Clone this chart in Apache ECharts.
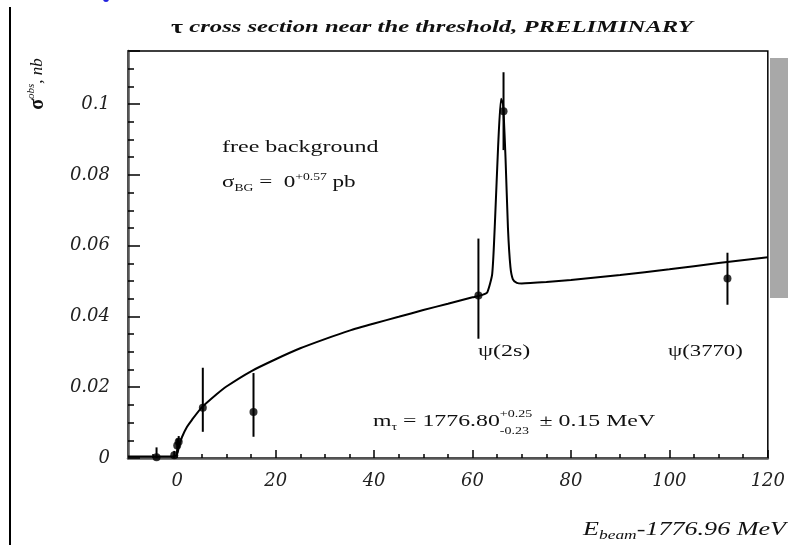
<html>
<head>
<meta charset="utf-8">
<script src="https://cdn.jsdelivr.net/npm/echarts@6/dist/echarts.min.js"></script>
<style>
  html, body, #main { width: 100%; height: 100%; margin: 0; background: #fff; }
</style>
</head>
<body>
<div id="main"></div>
<script>
// measured points (E_beam - 1776.96 MeV, sigma obs in nb)
var pointX  = [-4.2, -0.6, 0.0, 0.3, 5.2, 15.5, 61.2, 66.3, 111.8];
var pointY  = [0.0002, 0.0008, 0.0035, 0.0046, 0.0142, 0.0130, 0.0459, 0.0980, 0.0507];
var errLow  = [0.0, 0.0, 0.0015, 0.003, 0.0074, 0.0060, 0.0337, 0.0870, 0.0433];
var errHigh = [0.003, 0.002, 0.0055, 0.0062, 0.0255, 0.0240, 0.0620, 0.1090, 0.0580];

// fitted curve
var curveX = [-10, -2, -0.5, 0, 0.5, 1, 2, 3, 5, 8, 10, 15, 20, 25, 30, 35, 40, 45, 50, 55, 60, 62, 63, 64, 64.6, 65.2, 65.8, 66.2, 66.7, 67.2, 67.7, 68.2, 69, 70, 75, 80, 90, 100, 110, 120];
var curveY = [0.0004, 0.0004, 0.0005, 0.0012, 0.004, 0.006, 0.0088, 0.0108, 0.0143, 0.018, 0.0202, 0.0245, 0.0279, 0.031, 0.0336, 0.036, 0.038, 0.0399, 0.0418, 0.0436, 0.0454, 0.0461, 0.0468, 0.052, 0.068, 0.088, 0.1015, 0.1, 0.085, 0.065, 0.054, 0.0505, 0.0495, 0.0493, 0.0497, 0.0503, 0.0517, 0.0533, 0.0551, 0.0567];

var xMajor = [0, 20, 40, 60, 80, 100, 120];
var xMinor = [-5, 5, 10, 15, 25, 30, 35, 45, 50, 55, 65, 70, 75, 85, 90, 95, 105, 110, 115];

var chart = echarts.init(document.getElementById('main'));
var serif = 'Liberation Serif';
var tickFont = 'DejaVu Serif';

var measure = document.createElement('canvas').getContext('2d');
function tw(text, font) { measure.font = font; return measure.measureText(text).width; }

var points = pointX.map(function (x, i) { return [x, pointY[i]]; });
var bars = pointX.map(function (x, i) { return [x, errLow[i], errHigh[i]]; });
var curve = curveX.map(function (x, i) { return [x, curveY[i]]; });

// m_tau annotation, pieces laid out side by side
var f17 = '17px ' + serif, f10 = '10px ' + serif;
var w1 = tw('m', f17) + tw('τ', f10) + tw(' = 1776.80', f17);
var w2 = Math.max(tw('+0.25', f10), tw('-0.23', f10)) + 1;
var mtau = {
  type: 'group', x: 373, y: 422, scaleX: 1.4,
  children: [
    { type: 'text', x: 0, y: 0, style: {
        text: '{a|m}{sub|τ}{a| = 1776.80}', verticalAlign: 'middle', fill: '#111',
        rich: { a: { font: f17 }, sub: { font: f10, padding: [10, 0, 0, 0] } } } },
    { type: 'text', x: w1, y: -8, style: { text: '+0.25', font: f10, fill: '#111', verticalAlign: 'middle' } },
    { type: 'text', x: w1, y: 9, style: { text: '-0.23', font: f10, fill: '#111', verticalAlign: 'middle' } },
    { type: 'text', x: w1 + w2, y: 0, style: { text: ' ± 0.15 MeV', font: f17, fill: '#111', verticalAlign: 'middle' } }
  ]
};

var option = {
  animation: false,
  grid: { left: 128, right: 18, top: 51, bottom: 87, show: true, borderColor: '#000', borderWidth: 1.5 },
  xAxis: [{
    type: 'value', min: -10, max: 120,
    axisLine: { onZero: false, lineStyle: { color: '#555', width: 2.5 } },
    axisTick: { inside: true, length: 8, customValues: xMajor, lineStyle: { color: '#000', width: 1.5 } },
    axisLabel: { customValues: xMajor, margin: 14, color: '#222', fontFamily: tickFont, fontStyle: 'italic', fontSize: 18 },
    splitLine: { show: false }
  }, {
    type: 'value', min: -10, max: 120, position: 'bottom',
    axisLine: { show: false, onZero: false },
    axisTick: { inside: true, length: 4, customValues: xMinor, lineStyle: { color: '#000', width: 1.5 } },
    axisLabel: { show: false },
    splitLine: { show: false }
  }],
  yAxis: {
    type: 'value', min: 0, max: 0.115, interval: 0.02,
    axisLine: { onZero: false, lineStyle: { color: '#555', width: 2.5 } },
    axisTick: { inside: true, length: 12, lineStyle: { color: '#000', width: 1.5 } },
    minorTick: { show: true, splitNumber: 4, length: 6, lineStyle: { color: '#000', width: 1.5 } },
    axisLabel: {
      margin: 18, color: '#222', fontFamily: tickFont, fontStyle: 'italic', fontSize: 18,
      showMaxLabel: false,
      formatter: function (v) { return v === 0 ? '0' : String(Math.round(v * 100) / 100); }
    },
    splitLine: { show: false }
  },
  series: [{
    type: 'line', data: curve, showSymbol: false, smooth: 0.2,
    lineStyle: { color: '#000', width: 2 }, z: 2
  }, {
    type: 'custom', data: bars, z: 3,
    renderItem: function (params, api) {
      var a = api.coord([api.value(0), api.value(1)]);
      var b = api.coord([api.value(0), api.value(2)]);
      return { type: 'line', shape: { x1: a[0], y1: a[1], x2: b[0], y2: b[1] }, style: { stroke: '#000', lineWidth: 2 } };
    }
  }, {
    type: 'scatter', data: points, symbolSize: 8, z: 4,
    itemStyle: { color: '#000' }
  }],
  graphic: [
    { type: 'line', shape: { x1: 10, y1: 7, x2: 10, y2: 545 }, style: { stroke: '#000', lineWidth: 2 } },
    { type: 'circle', shape: { cx: 106, cy: -1, r: 3 }, style: { fill: '#2222dd' } },
    { type: 'rect', shape: { x: 770, y: 58, width: 18, height: 240 }, style: { fill: '#a8a8a8' } },
    { type: 'text', x: 432, y: 28, scaleX: 1.45, style: {
        text: '{u|τ} cross section near the threshold, PRELIMINARY',
        align: 'center', verticalAlign: 'middle',
        font: 'italic bold 17px ' + serif, fill: '#111',
        rich: { u: { fontStyle: 'normal', fontWeight: 'bold', fontSize: 18, fontFamily: serif } }
    } },
    { type: 'text', x: 38, y: 84, rotation: Math.PI / 2, style: {
        text: '{s|σ}{sup|obs}{t|, nb}',
        align: 'center', verticalAlign: 'middle', fill: '#111',
        rich: {
          s: { fontFamily: serif, fontSize: 20, fontWeight: 'bold' },
          sup: { fontFamily: serif, fontSize: 11, fontStyle: 'italic', verticalAlign: 'bottom', padding: [0, 0, 14, 0] },
          t: { fontFamily: serif, fontSize: 17, fontStyle: 'italic' }
        }
    } },
    { type: 'text', x: 786, y: 530, scaleX: 1.45, style: {
        text: '{b|E}{sub|beam}{b|-1776.96 MeV}',
        align: 'right', verticalAlign: 'middle', fill: '#111',
        rich: {
          b: { fontFamily: serif, fontSize: 18, fontStyle: 'italic' },
          sub: { fontFamily: serif, fontSize: 12, fontStyle: 'italic', padding: [12, 0, 0, 0] }
        }
    } },
    { type: 'text', x: 222, y: 148, scaleX: 1.5, style: {
        text: 'free background', verticalAlign: 'middle',
        font: '16px ' + serif, fill: '#111'
    } },
    { type: 'text', x: 222, y: 183, scaleX: 1.36, style: {
        text: '{a|σ}{sub|BG}{a| =  0}{sup|+0.57}{a| pb}', verticalAlign: 'middle', fill: '#111',
        rich: {
          a: { fontFamily: serif, fontSize: 17 },
          sub: { fontFamily: serif, fontSize: 10, padding: [10, 0, 0, 0] },
          sup: { fontFamily: serif, fontSize: 10, padding: [0, 0, 12, 0] }
        }
    } },
    { type: 'text', x: 478, y: 352, scaleX: 1.5, style: {
        text: 'ψ(2s)', verticalAlign: 'middle', font: '16px ' + serif, fill: '#111'
    } },
    { type: 'text', x: 668, y: 352, scaleX: 1.42, style: {
        text: 'ψ(3770)', verticalAlign: 'middle', font: '16px ' + serif, fill: '#111'
    } },
    mtau
  ]
};
chart.setOption(option);
</script>
</body>
</html>
